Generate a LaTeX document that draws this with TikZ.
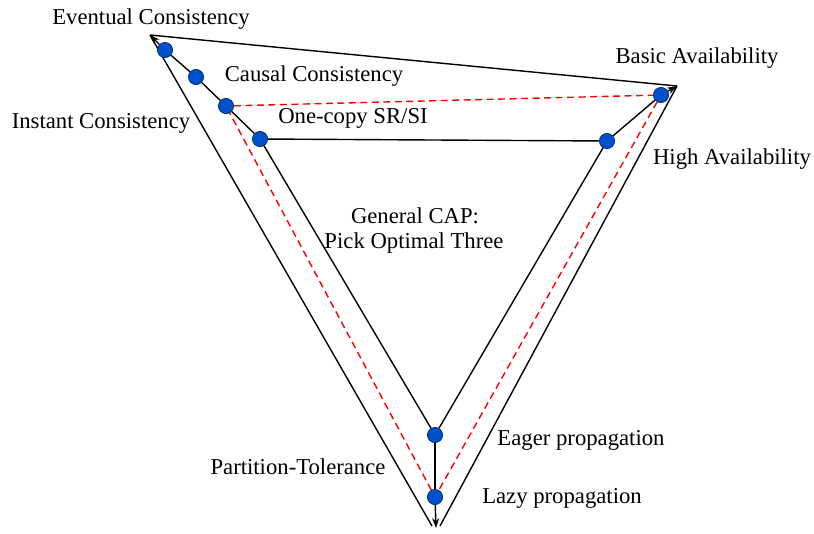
\documentclass[tikz,border=0pt]{standalone}
\usepackage{fontspec}
\setmainfont{Liberation Serif}
\usetikzlibrary{arrows.meta}
\definecolor{dotblue}{RGB}{0,82,204}
\begin{document}
\begin{tikzpicture}[x=1pt,y=-1pt,
  dot/.style={circle,fill=dotblue,draw=dotblue!55!black,line width=0.6pt,inner sep=0pt,minimum size=15pt},
  lbl/.style={font=\fontsize{22.7}{27}\selectfont,inner sep=0pt},
  axisline/.style={line width=1.4pt,-{Stealth[length=10pt,width=7pt]}},
  edge/.style={line width=1.4pt},
  redline/.style={red,line width=1.4pt,dash pattern=on 7pt off 4.5pt}]
\useasboundingbox (0,0) rectangle (814,533);

% corners of the outer triangle
\coordinate (C) at (150,35);
\coordinate (A) at (677,86);
\coordinate (P) at (436,528);
\coordinate (Pl) at (432,526);
\coordinate (Pr) at (440,526);

% points on the consistency, availability and partition axes
\node[dot] (ev) at (165,50) {};
\node[dot] (ca) at (196,77) {};
\node[dot] (ic) at (226,106) {};
\node[dot] (sr) at (260,139) {};
\node[dot] (ba) at (661,95) {};
\node[dot] (ha) at (607,141) {};
\node[dot] (ea) at (435,435) {};
\node[dot] (la) at (435,497) {};

% outer triangle
\draw[edge] (C) -- (A);
\draw[edge] (C) -- (Pl);
\draw[edge] (Pr) -- (A);

% inner triangle
\draw[edge] (sr) -- (ha);
\draw[edge] (ha) -- (ea);
\draw[edge] (ea) -- (sr);

% dashed triangle
\draw[redline] (ic) -- (ba);
\draw[redline] (ba) -- (la);
\draw[redline] (la) -- (ic);

% axes
\draw[edge] (sr) -- (ic) -- (ca) -- (ev);
\draw[axisline] (ev) -- (C);
\draw[edge] (ha) -- (ba);
\draw[axisline] (ba) -- (A);
\draw[edge] (ea) -- (la);
\draw[axisline] (la) -- (P);

% redraw the dots on top of the lines
\foreach \d/\x/\y in {ev/165/50,ca/196/77,ic/226/106,sr/260/139,ba/661/95,ha/607/141,ea/435/435,la/435/497}
  \node[dot] at (\x,\y) {};

% labels
\node[lbl] (tev) at (151,19) {Eventual Consistency};
\node[lbl] (tca) at (314,76) {Causal Consistency};
\node[lbl] (tba) at (697,58) {Basic Availability};
\node[lbl] (tic) at (101,123) {Instant Consistency};
\node[lbl] (tsr) at (353,118) {One-copy SR/SI};
\node[lbl] (tha) at (732,159) {High Availability};
\node[lbl] (tg1) at (415,216) {General CAP:};
\node[lbl] (tg2) at (414,243) {Pick Optimal Three};
\node[lbl] (tea) at (581,440) {Eager propagation};
\node[lbl] (tpt) at (298,467) {Partition-Tolerance};
\node[lbl] (tla) at (562,498) {Lazy propagation};
\end{tikzpicture}
\end{document}
